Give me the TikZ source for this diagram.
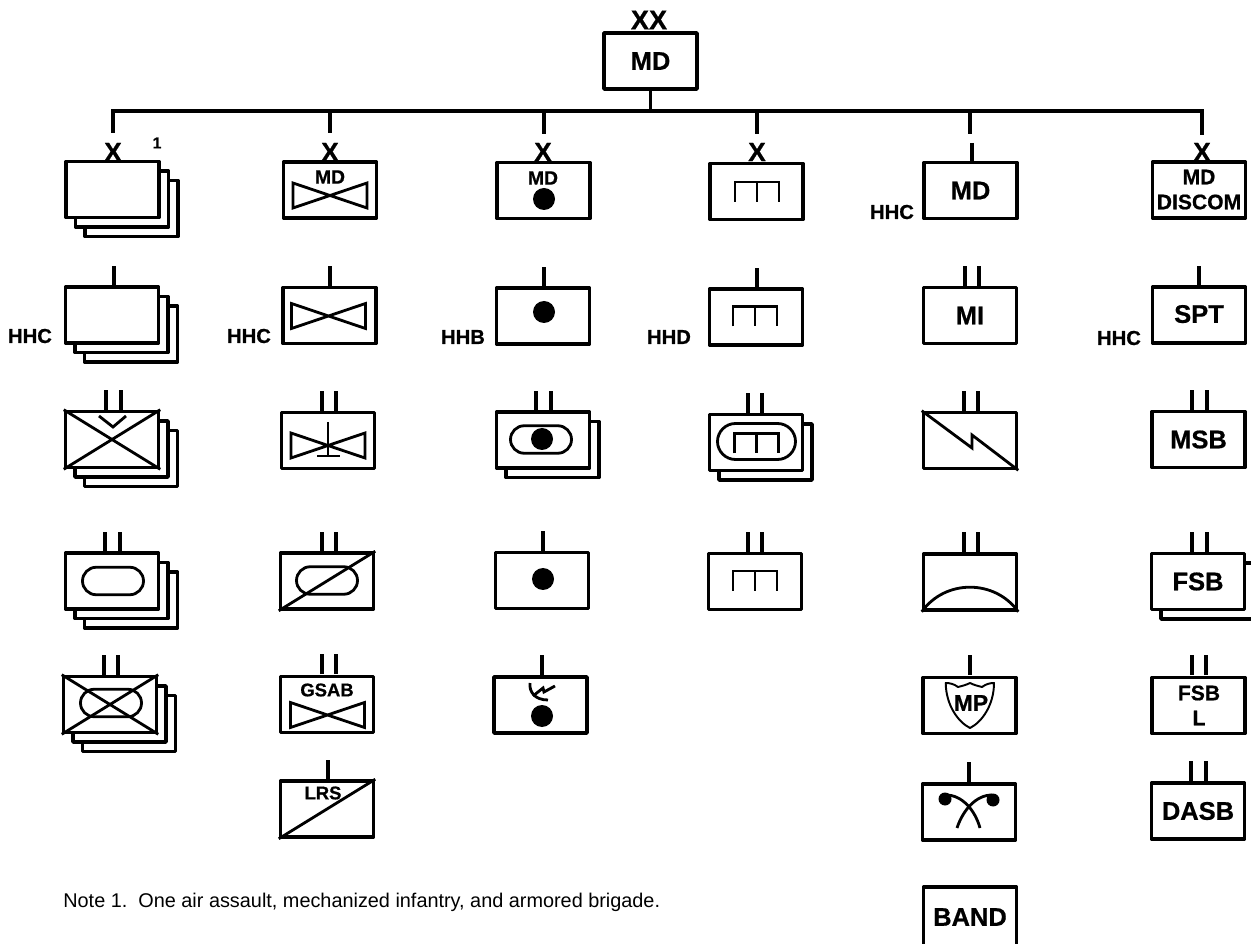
\documentclass[tikz,border=0pt]{standalone}
\usepackage{fontspec}
\setmainfont{Liberation Sans}[BoldFeatures={FakeBold=0.7}]
\usetikzlibrary{shapes.misc}
\tikzset{
	unit/.style={draw,fill=white,line width=2pt,minimum width=18.6mm,minimum height=11.2mm,inner sep=0pt,font=\fontsize{14.5}{16}\selectfont\bfseries},
	bus/.style={line width=2.6pt},
	tick/.style={line width=2.2pt},
	sym/.style={line width=1.6pt,line join=miter},
	oval/.style={draw,rounded rectangle,line width=1.6pt,inner sep=0pt,minimum width=12.2mm,minimum height=5.5mm},
	tag/.style={inner sep=0pt,font=\fontsize{11.5}{13}\selectfont\bfseries},
	inbox/.style={inner sep=0pt,font=\fontsize{11}{13}\selectfont\bfseries},
	echelon/.style={inner sep=0pt,font=\fontsize{15}{16}\selectfont\bfseries}
}
\newcommand{\wings}[2]{\draw[sym] (#1,#2)+(-37,-12.5)--+(37,12.5)--+(37,-12.5)--+(-37,12.5)--cycle;}
\newcommand{\blob}[2]{\fill (#1,#2) circle (11);}
\newcommand{\rack}[2]{\draw[sym] (#1,#2)+(-22,10)--+(-22,-10)--+(22,-10)--+(22,10) (#1,#2)+(0,-10)--+(0,10);}
\begin{document}
\begin{tikzpicture}[x=0.2mm,y=-0.2mm,line join=round]
	\clip (0,0) rectangle (1251,944);
	\foreach \n/\x/\y in {1/112.5/189.5,2/112/315,3/112/439.5,4/112/581,5/110/704.5} {
		\node[unit,shift={(19,19)}] (a\n z) at (\x,\y) {};
		\node[unit,shift={(9.5,9.5)}] (a\n y) at (\x,\y) {};
		\node[unit] (a\n) at (\x,\y) {};
	}
	\node[unit] (b1) at (330,190) {};
	\node[unit] (b2) at (329.5,315.5) {};
	\node[unit] (b3) at (328,440.5) {};
	\node[unit] (b4) at (327,581) {};
	\node[unit] (b5) at (327,704.5) {};
	\node[unit] (b6) at (327,809) {};
	\node[unit] (c1) at (543.5,190.5) {};
	\node[unit] (c2) at (543,316) {};
	\node[unit,shift={(9.5,9.5)}] (c3y) at (543,440) {};
	\node[unit] (c3) at (543,440) {};
	\node[unit] (c4) at (542,580.5) {};
	\node[unit] (c5) at (540.5,705) {};
	\node[unit] (d1) at (756.5,191.5) {};
	\node[unit] (d2) at (756,317) {};
	\node[unit,shift={(9.5,9.5)}] (d3y) at (756,442.5) {};
	\node[unit] (d3) at (756,442.5) {};
	\node[unit] (d4) at (755,581.5) {};
	\node[unit] (e1) at (970.5,190.5) {MD};
	\node[unit] (e2) at (970,315.5) {\raisebox{-1.4pt}{MI}};
	\node[unit] (e3) at (970,440.5) {};
	\node[unit] (e4) at (970,582) {};
	\node[unit] (e5) at (969.5,705.5) {};
	\node[unit] (e6) at (969,812) {};
	\node[unit,minimum height=12mm] (e7) at (970,917) {BAND};
	\node[unit] (f1) at (1199,190) {};
	\node[unit] (f2) at (1199,315) {\raisebox{1.2pt}{SPT}};
	\node[unit] (f3) at (1198.5,439.5) {MSB};
	\node[unit,shift={(9.5,9.5)}] (f4y) at (1198,581.5) {};
	\node[unit] (f4) at (1198,581.5) {FSB};
	\node[unit] (f5) at (1198.5,705.5) {};
	\node[unit] (f6) at (1198,811) {\raisebox{-1.2pt}{DASB}};
	\node[unit] (md) at (650.5,61) {MD};
	\coordinate (bus0) at (650.5,111);
	\coordinate (bus1) at (113,111);
	\coordinate (bus2) at (330,111);
	\coordinate (bus3) at (544,111);
	\coordinate (bus4) at (757,111);
	\coordinate (bus5) at (970,111);
	\coordinate (bus6) at (1202,111);
	\coordinate (drop1) at (113,133);
	\coordinate (drop2) at (330,133);
	\coordinate (drop3) at (544,134);
	\coordinate (drop4) at (757,134);
	\coordinate (drop5) at (970,134);
	\coordinate (drop6) at (1202,135);
	\coordinate (gap5) at (972,143);
	\draw[bus,line join=miter] (drop1) -- (bus1) -- (bus6) -- (drop6);
	\draw[tick] (md) -- (bus0);
	\foreach \n in {2,...,5}
	\draw[tick] (bus\n) -- (drop\n);
	\draw[tick] (gap5) -- (gap5 |- e1.north);
	\node[echelon] (xa) at (113,152) {X};
	\node[echelon] (xb) at (330,152) {X};
	\node[echelon] (xc) at (543,152) {X};
	\node[echelon] (xd) at (757,152) {X};
	\node[echelon] (xf) at (1202,152) {X};
	\node[echelon,font=\fontsize{15.5}{16}\selectfont\bfseries] (xx) at (649,20) {XX};
	\node[inner sep=0pt,font=\fontsize{9}{10}\selectfont\bfseries] (n1) at (157,143) {1};
	\foreach \x/\y in {114/286,330/286,544/287,757/288,1199/286,543/551,542/675,970/675,969/782,328/780}
	\draw[tick] (\x,\y) -- (\x,\y-20);
	\foreach \x/\y in {106/410,121/410,105/552,120/552,104/675,118/675,322/411,336/411,322/552,336/552,322/674,336/674,536/411,551/411,748/413,762/413,748/552,762/552,965/286,979/286,964/411,978/411,964/552,978/552,1192/410,1207/410,1192/552,1207/552,1192/675,1206/675,1191/781,1206/781}
	\draw[tick] (\x,\y) -- (\x,\y-20);
	\node[tag] (t1) at (30,336) {HHC};
	\node[tag] (t2) at (249,336) {HHC};
	\node[tag] (t3) at (463,337) {HHB};
	\node[tag] (t4) at (669,337) {HHD};
	\node[tag] (t5) at (892,212) {HHC};
	\node[tag] (t6) at (1119,338) {HHC};
	\draw[sym] (a3.north west) -- (a3.south east) (a3.north east) -- (a3.south west);
	\draw[sym] (99,416) -- (113,427) -- (126,416);
	\node[oval] (a4o) at (113,581) {};
	\node[oval] (a5o) at (111,703) {};
	\draw[sym] (a5.north west) -- (a5.south east) (a5.north east) -- (a5.south west);
	\node[inbox] (b1t) at (330,177) {MD};
	\wings{330}{195.5}
	\wings{328.5}{316}
	\wings{328}{445.5}
	\draw[sym] (328,422) -- (328,456) (317,456) -- (340,456);
	\node[oval] (b4o) at (327,580.5) {};
	\draw[sym] (b4.south west) -- (b4.north east);
	\node[inbox,font=\fontsize{10.5}{13}\selectfont\bfseries] (b5t) at (327,690) {GSAB};
	\wings{327.5}{715}
	\node[inbox,font=\fontsize{10.5}{13}\selectfont\bfseries] (b6t) at (323,793) {LRS};
	\draw[sym] (b6.south west) -- (b6.north east);
	\node[inbox] (c1t) at (543,178) {MD};
	\blob{544}{199}
	\blob{544}{312}
	\node[oval] (c3o) at (541,439.5) {};
	\blob{542}{439}
	\blob{543}{579}
	\draw[sym] (530,683) .. controls (529,692) and (535,700) .. (548,700);
	\draw[sym] (533,696) -- (543,688) -- (544,692) -- (555,686);
	\blob{542}{716}
	\rack{757}{192}
	\rack{755}{316.5}
	\node[oval,minimum width=15.6mm,minimum height=7.2mm] (d3o) at (756.5,441.5) {};
	\rack{756.5}{443.5}
	\rack{755}{581}
	\draw[sym] (e3.north west) -- (972,448) -- (972,435) -- (e3.south east);
	\draw[sym] (e4.south west) .. controls (945,579) and (995,579) .. (e4.south east);
	\draw[line width=1.1pt] (945.7,683) .. controls (950,683) and (954,684) .. (958,687) .. controls (962,686) and (966,685) .. (970,683) .. controls (974,685) and (978,686) .. (982,687) .. controls (986,684) and (990,683) .. (994,683) .. controls (994,705) and (982,722) .. (970,728) .. controls (958,722) and (946,705) .. (945.7,683) -- cycle;
	\node[inbox,font=\fontsize{13}{14}\selectfont\bfseries] (e5t) at (971,703) {MP};
	\fill (945,799) circle (6.5) (993,800) circle (6.5);
	\draw[sym] (946,795) .. controls (962,795) and (975,810) .. (980,828);
	\draw[sym] (992,795) .. controls (976,795) and (963,810) .. (957,828);
	\node[inbox,font=\fontsize{12}{13}\selectfont\bfseries] (f1a) at (1199,177) {MD};
	\node[inbox,font=\fontsize{12}{13}\selectfont\bfseries] (f1b) at (1199,202) {DISCOM};
	\node[inbox,font=\fontsize{12}{13}\selectfont\bfseries] (f5a) at (1199,693) {FSB};
	\node[inbox,font=\fontsize{12}{13}\selectfont\bfseries] (f5b) at (1199,718) {L};
	\node[anchor=base west,inner sep=0pt,font=\fontsize{11.3}{13}\selectfont] (note) at (63,907) {Note 1.\ \ One air assault, mechanized infantry, and armored brigade.};
\end{tikzpicture}
\end{document}
